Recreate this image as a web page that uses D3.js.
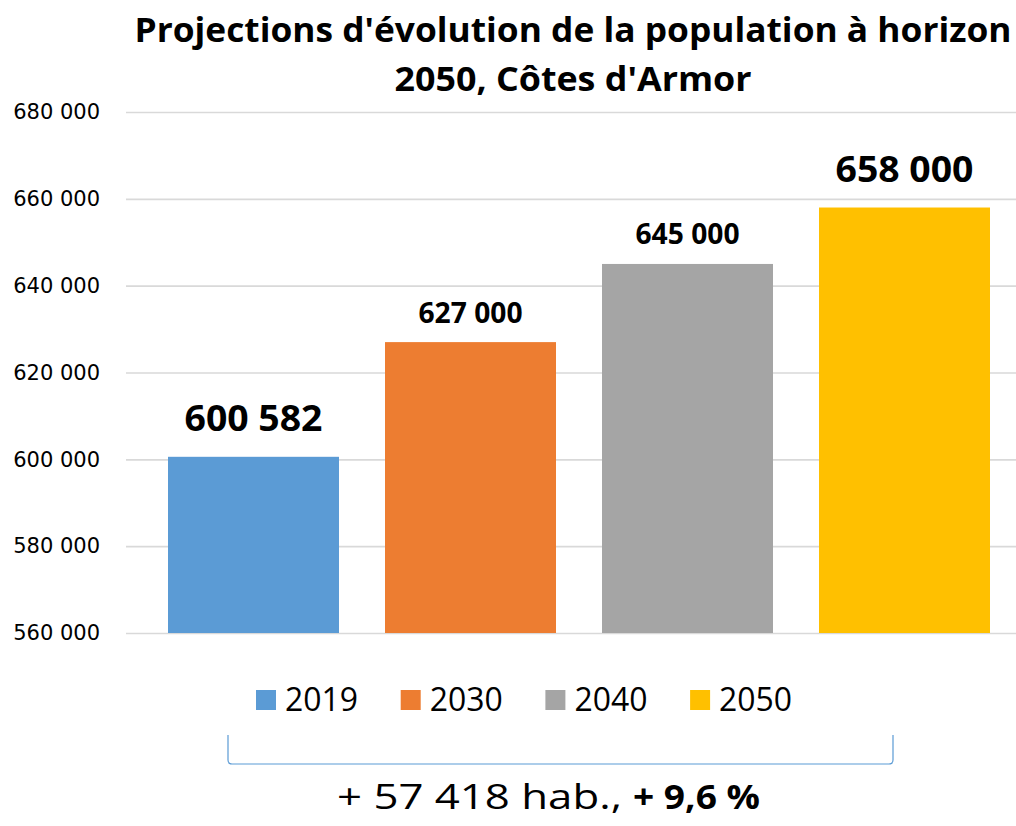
<!DOCTYPE html>
<html>
<head>
<meta charset="utf-8">
<script src="https://cdn.jsdelivr.net/npm/d3@7"></script>
<style>
  body { margin: 0; background: #fff; }
  svg { display: block; }
</style>
</head>
<body>
<svg id="chart"></svg>
<script>
// data
var years = ["2019", "2030", "2040", "2050"];
var population = [600582, 627000, 645000, 658000];
var yTicks = [560000, 580000, 600000, 620000, 640000, 660000, 680000];
var titleLines = ["Projections d'évolution de la population à horizon", "2050, Côtes d'Armor"];
var summaryText = ["+ 57 418 hab.,", "+ 9,6 %"];

var colors = ["#5b9bd5", "#ed7d31", "#a5a5a5", "#ffc000"];
var W = 1016, H = 826;
var font = "'Open Sans', sans-serif";

var svg = d3.select("#chart").attr("width", W).attr("height", H);

var fr = d3.formatLocale({ decimal: ",", thousands: "\u00a0", grouping: [3], currency: ["", ""] });
var fmt = fr.format(",d");

var x_scale = d3.scaleBand().domain(years).range([145, 1013]).paddingInner(0.212).paddingOuter(0.106);
var y_scale = d3.scaleLinear().domain([560000, 680000]).range([633, 112]);

// title
svg.selectAll(".title")
  .data(titleLines)
  .join("text")
  .attr("class", "title")
  .attr("x", 573)
  .attr("y", (d, i) => 42 + i * 49)
  .attr("text-anchor", "middle")
  .attr("textLength", (d, i) => (i === 0 ? 877 : 357))
  .attr("lengthAdjust", "spacingAndGlyphs")
  .style("font-family", font)
  .style("font-weight", "bold")
  .style("font-size", "34px")
  .style("fill", "#000")
  .text((d) => d);

// y axis + gridlines
var yAxis = svg.append("g")
  .attr("transform", "translate(126,0)")
  .call(d3.axisLeft(y_scale).tickValues(yTicks).tickSize(-890).tickPadding(26).tickFormat(fmt));
yAxis.select(".domain").remove();
yAxis.selectAll(".tick line").attr("stroke", "#d9d9d9").attr("stroke-width", 1.6);
yAxis.selectAll(".tick text")
  .style("font-family", "'DejaVu Sans', sans-serif")
  .style("font-size", "21px")
  .style("fill", "#000");

// bars
svg.selectAll(".bar")
  .data(population)
  .join("rect")
  .attr("class", "bar")
  .attr("x", (d, i) => x_scale(years[i]))
  .attr("y", (d) => y_scale(d))
  .attr("width", x_scale.bandwidth())
  .attr("height", (d) => y_scale(560000) - y_scale(d))
  .style("fill", (d, i) => colors[i]);

// value labels (first and last emphasised)
svg.selectAll(".label")
  .data(population)
  .join("text")
  .attr("class", "label")
  .attr("x", (d, i) => x_scale(years[i]) + x_scale.bandwidth() / 2)
  .attr("y", (d, i) => y_scale(d) - (i === 0 || i === 3 ? 26 : 19.5))
  .attr("text-anchor", "middle")
  .attr("textLength", (d, i) => (i === 0 || i === 3 ? 138 : 104))
  .attr("lengthAdjust", "spacingAndGlyphs")
  .style("font-family", font)
  .style("font-weight", "bold")
  .style("font-size", (d, i) => (i === 0 || i === 3 ? "35px" : "28px"))
  .style("fill", "#000")
  .text((d) => fmt(d));

// legend
var legend = svg.selectAll(".legend")
  .data(years)
  .join("g")
  .attr("class", "legend")
  .attr("transform", (d, i) => `translate(${256 + i * 144.7},690)`);
legend.append("rect")
  .attr("width", 20)
  .attr("height", 20)
  .style("fill", (d, i) => colors[i]);
legend.append("text")
  .attr("x", 29)
  .attr("y", 21)
  .attr("textLength", 73)
  .attr("lengthAdjust", "spacingAndGlyphs")
  .style("font-family", font)
  .style("font-size", "32px")
  .style("fill", "#000")
  .text((d) => d);

// brace under legend
var bx0 = 228, bx1 = 893, by0 = 735, by1 = 764, r = 4;
svg.append("path")
  .attr("d", `M${bx0},${by0} L${bx0},${by1 - r} Q${bx0},${by1} ${bx0 + r},${by1} L${bx1 - r},${by1} Q${bx1},${by1} ${bx1},${by1 - r} L${bx1},${by0}`)
  .attr("fill", "none")
  .attr("stroke", "#5b9bd5")
  .attr("stroke-width", 1.2);

// summary
svg.append("text")
  .attr("x", 337)
  .attr("y", 809)
  .attr("textLength", 285)
  .attr("lengthAdjust", "spacingAndGlyphs")
  .style("font-family", font)
  .style("font-size", "34px")
  .style("fill", "#000")
  .text(summaryText[0]);
svg.append("text")
  .attr("x", 633)
  .attr("y", 809)
  .attr("textLength", 127)
  .attr("lengthAdjust", "spacingAndGlyphs")
  .style("font-family", font)
  .style("font-weight", "bold")
  .style("font-size", "34px")
  .style("fill", "#000")
  .text(summaryText[1]);
</script>
</body>
</html>
